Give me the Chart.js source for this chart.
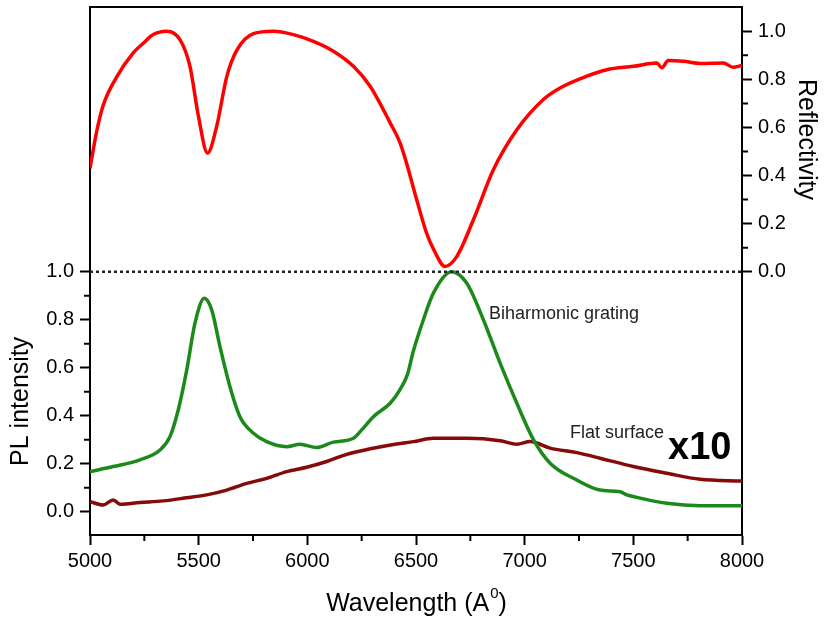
<!DOCTYPE html>
<html>
<head>
<meta charset="utf-8">
<script src="https://cdn.jsdelivr.net/npm/chart.js@4.4.0/dist/chart.umd.min.js"></script>
<style>
  html, body { margin: 0; padding: 0; background: #fff; }
  #wrap { width: 827px; height: 622px; }
</style>
</head>
<body>
<div id="wrap"><canvas id="plChart"></canvas></div>
<script>
// reflectivity (right axis)
const reflWavelength = [5000, 5030, 5060, 5123, 5199, 5245, 5291, 5353, 5414, 5460, 5499, 5541, 5583, 5629, 5675, 5752, 5844, 5936, 6028, 6120, 6212, 6289, 6381, 6427, 6457, 6503, 6549, 6580, 6634, 6688, 6764, 6856, 6964, 7086, 7163, 7286, 7378, 7500, 7608, 7631, 7661, 7730, 7807, 7914, 7960, 8000];
const reflectivity   = [0.43, 0.58, 0.69, 0.81, 0.91, 0.95, 0.986, 1.0, 0.965, 0.854, 0.646, 0.494, 0.605, 0.81, 0.92, 0.99, 1.0, 0.986, 0.958, 0.917, 0.854, 0.771, 0.619, 0.535, 0.45, 0.30, 0.16, 0.095, 0.022, 0.064, 0.216, 0.424, 0.59, 0.716, 0.764, 0.813, 0.84, 0.854, 0.868, 0.848, 0.878, 0.875, 0.866, 0.868, 0.85, 0.858];

// PL, biharmonic grating (left axis)
const gratingWavelength = [5000, 5107, 5230, 5322, 5368, 5406, 5445, 5483, 5526, 5560, 5598, 5644, 5690, 5752, 5813, 5905, 5966, 6043, 6120, 6212, 6250, 6304, 6381, 6427, 6460, 6488, 6534, 6580, 6664, 6733, 6810, 6887, 6964, 7041, 7117, 7240, 7347, 7439, 7470, 7500, 7654, 7807, 8000];
const gratingPL         = [0.167, 0.188, 0.216, 0.257, 0.313, 0.424, 0.59, 0.786, 0.89, 0.841, 0.688, 0.521, 0.396, 0.327, 0.292, 0.271, 0.281, 0.267, 0.29, 0.306, 0.341, 0.396, 0.452, 0.51, 0.57, 0.67, 0.80, 0.911, 1.0, 0.953, 0.80, 0.619, 0.452, 0.299, 0.202, 0.132, 0.09, 0.083, 0.07, 0.063, 0.035, 0.025, 0.025];

// PL, flat surface x10 (left axis)
const flatWavelength = [5000, 5061, 5107, 5138, 5230, 5337, 5445, 5537, 5629, 5721, 5813, 5905, 5997, 6089, 6181, 6289, 6411, 6488, 6580, 6733, 6887, 6964, 7025, 7117, 7240, 7347, 7500, 7654, 7807, 8000];
const flatPL         = [0.042, 0.028, 0.049, 0.031, 0.038, 0.045, 0.058, 0.07, 0.09, 0.118, 0.139, 0.167, 0.185, 0.209, 0.239, 0.262, 0.282, 0.292, 0.306, 0.306, 0.296, 0.281, 0.292, 0.265, 0.246, 0.223, 0.188, 0.16, 0.135, 0.128];

const wavelengthTicks = [5000, 5500, 6000, 6500, 7000, 7500, 8000];
const wavelengthMinor = [5250, 5750, 6250, 6750, 7250, 7750];
const plTicks = [0, 0.2, 0.4, 0.6, 0.8, 1.0];
const plMinor = [0.1, 0.3, 0.5, 0.7, 0.9];
const reflTicks = [0, 0.2, 0.4, 0.6, 0.8, 1.0];
const reflMinor = [0.1, 0.3, 0.5, 0.7, 0.9];
const dividerLevel = 1.0;

const FONT = "'Liberation Sans', Arial, sans-serif";

function pts(xs, ys) {
    return xs.map((x, i) => ({x: x, y: ys[i]}));
}

// scales must not push the plot area in for their edge labels
function fixSize(s, w, h) {
    if (w) s.width = w;
    if (h) s.height = h;
    s.paddingTop = 0;
    s.paddingBottom = 0;
    s.paddingLeft = 0;
    s.paddingRight = 0;
}

// minor ticks, top frame line, rotated titles and text labels
const decorPlugin = {
    id: 'decor',
    afterDraw(chart) {
        const ctx = chart.ctx;
        const area = chart.chartArea;
        const sx = chart.scales.x, sy = chart.scales.y, sr = chart.scales.y1;
        ctx.save();
        ctx.strokeStyle = '#000';
        ctx.lineWidth = 2;
        ctx.beginPath();
        ctx.moveTo(area.left - 1, area.top);
        ctx.lineTo(area.right + 1, area.top);
        wavelengthMinor.forEach(v => {
            const px = sx.getPixelForValue(v);
            ctx.moveTo(px, area.bottom);
            ctx.lineTo(px, area.bottom + 6);
        });
        plMinor.forEach(v => {
            const py = sy.getPixelForValue(v);
            ctx.moveTo(area.left, py);
            ctx.lineTo(area.left - 6, py);
        });
        reflMinor.forEach(v => {
            const py = sr.getPixelForValue(v);
            ctx.moveTo(area.right, py);
            ctx.lineTo(area.right + 6, py);
        });
        ctx.stroke();

        ctx.fillStyle = '#000';
        ctx.textBaseline = 'middle';
        ctx.font = '25px ' + FONT;
        // x title with superscript
        const main = 'Wavelength (A';
        const wMain = ctx.measureText(main).width;
        ctx.font = '15px ' + FONT;
        const wSup = ctx.measureText('0').width;
        ctx.font = '25px ' + FONT;
        const wEnd = ctx.measureText(')').width;
        let x0 = (area.left + area.right) / 2 - (wMain + wSup + wEnd) / 2;
        ctx.textAlign = 'left';
        ctx.fillText(main, x0, 604);
        ctx.font = '15px ' + FONT;
        ctx.fillText('0', x0 + wMain + 1, 594);
        ctx.font = '25px ' + FONT;
        ctx.fillText(')', x0 + wMain + wSup + 1, 604);

        ctx.textAlign = 'center';
        ctx.save();
        ctx.translate(21, sy.getPixelForValue(0.46));
        ctx.rotate(-Math.PI / 2);
        ctx.fillText('PL intensity', 0, 0);
        ctx.restore();
        ctx.save();
        ctx.translate(806, sr.getPixelForValue(0.55));
        ctx.rotate(Math.PI / 2);
        ctx.fillText('Reflectivity', 0, 0);
        ctx.restore();

        ctx.textAlign = 'left';
        ctx.fillStyle = '#222';
        ctx.font = '18px ' + FONT;
        ctx.fillText('Biharmonic grating', sx.getPixelForValue(6836), sy.getPixelForValue(0.825));
        ctx.fillText('Flat surface', sx.getPixelForValue(7209), sy.getPixelForValue(0.328));
        ctx.fillStyle = '#000';
        ctx.font = 'bold 38px ' + FONT;
        ctx.fillText('x10', sx.getPixelForValue(7660), sy.getPixelForValue(0.262));
        ctx.restore();
    }
};

const axisGrid = {drawOnChartArea: false, tickLength: 10, tickColor: '#000', tickWidth: 2};
const axisBorder = {color: '#000', width: 2};
const tickFont = {family: FONT, size: 20};

new Chart(document.getElementById('plChart'), {
    type: 'line',
    data: {
        datasets: [
            {
                label: 'divider',
                data: pts([5000, 8000], [dividerLevel, dividerLevel]),
                yAxisID: 'y',
                borderColor: '#222',
                borderWidth: 2.5,
                borderDash: [3, 3],
                tension: 0
            },
            {
                label: 'Reflectivity',
                data: pts(reflWavelength, reflectivity),
                yAxisID: 'y1',
                borderColor: '#ff0000',
                borderWidth: 3.5,
                cubicInterpolationMode: 'monotone'
            },
            {
                label: 'Biharmonic grating',
                data: pts(gratingWavelength, gratingPL),
                yAxisID: 'y',
                borderColor: '#1b8a1b',
                borderWidth: 3.5,
                cubicInterpolationMode: 'monotone'
            },
            {
                label: 'Flat surface',
                data: pts(flatWavelength, flatPL),
                yAxisID: 'y',
                borderColor: '#870a0a',
                borderWidth: 3.5,
                cubicInterpolationMode: 'monotone'
            }
        ]
    },
    options: {
        responsive: true,
        maintainAspectRatio: false,
        animation: false,
        devicePixelRatio: 1,
        layout: {padding: {top: 7, left: 0, right: 0, bottom: 0}, autoPadding: false},
        elements: {point: {radius: 0}},
        plugins: {legend: {display: false}, tooltip: {enabled: false}},
        scales: {
            x: {
                type: 'linear',
                position: 'bottom',
                min: 5000,
                max: 8000,
                afterBuildTicks: s => { s.ticks = wavelengthTicks.map(v => ({value: v})); },
                afterFit: s => fixSize(s, 0, 87),
                ticks: {font: tickFont, color: '#000', padding: 4, maxRotation: 0, callback: v => String(v)},
                grid: axisGrid,
                border: axisBorder
            },
            y: {
                position: 'left',
                min: -0.0972,
                max: 2.1035,
                afterBuildTicks: s => { s.ticks = plTicks.map(v => ({value: v})); },
                afterFit: s => fixSize(s, 90, 0),
                ticks: {font: tickFont, color: '#000', padding: 6, callback: v => v.toFixed(1)},
                grid: axisGrid,
                border: axisBorder
            },
            y1: {
                position: 'right',
                min: -1.0944,
                max: 1.1007,
                afterBuildTicks: s => { s.ticks = reflTicks.map(v => ({value: v})); },
                afterFit: s => fixSize(s, 85, 0),
                ticks: {font: tickFont, color: '#000', padding: 6, callback: v => v.toFixed(1)},
                grid: axisGrid,
                border: axisBorder
            }
        }
    },
    plugins: [decorPlugin]
});
</script>
</body>
</html>
